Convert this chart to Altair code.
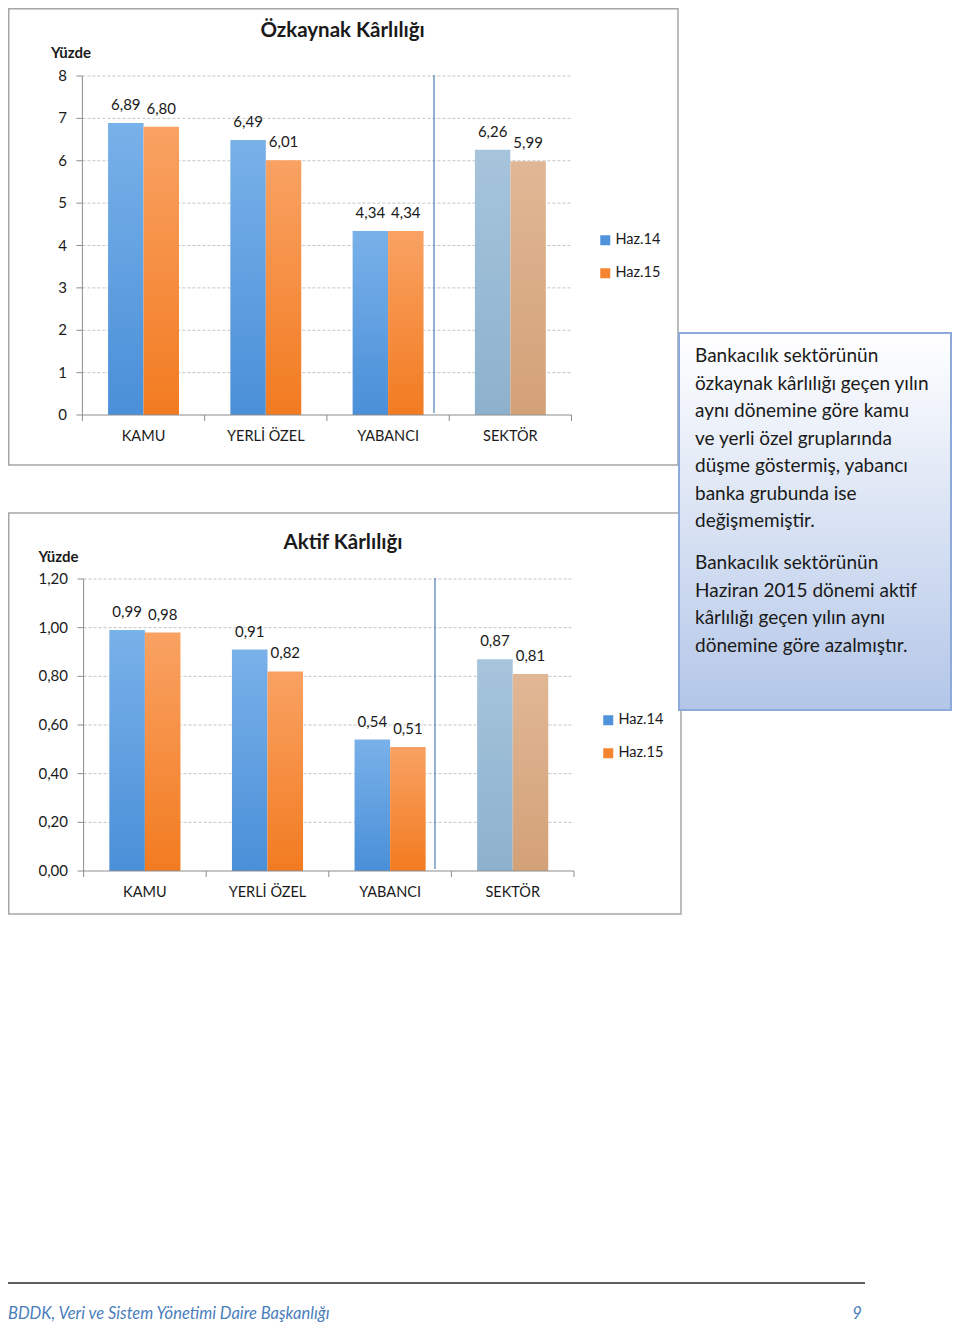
import altair as alt
import pandas as pd

# ---------------- data ----------------
groups = ["KAMU", "YERLİ ÖZEL", "YABANCI", "SEKTÖR"]
series = ["Haz.14", "Haz.15"]

oz_haz14 = [6.89, 6.49, 4.34, 6.26]
oz_haz15 = [6.80, 6.01, 4.34, 5.99]
ak_haz14 = [0.99, 0.91, 0.54, 0.87]
ak_haz15 = [0.98, 0.82, 0.51, 0.81]

oz_ticks = [0, 1, 2, 3, 4, 5, 6, 7, 8]
oz_tick_labels = ["0", "1", "2", "3", "4", "5", "6", "7", "8"]
ak_ticks = [0.0, 0.2, 0.4, 0.6, 0.8, 1.0, 1.2]
ak_tick_labels = ["0,00", "0,20", "0,40", "0,60", "0,80", "1,00", "1,20"]

titles = ["Özkaynak Kârlılığı", "Aktif Kârlılığı"]
unit_label = "Yüzde"

para1 = ["Bankacılık sektörünün", "özkaynak kârlılığı geçen yılın",
         "aynı dönemine göre kamu", "ve yerli özel gruplarında",
         "düşme göstermiş, yabancı", "banka grubunda ise", "değişmemiştir."]
para2 = ["Bankacılık sektörünün", "Haziran 2015 dönemi aktif",
         "kârlılığı geçen yılın aynı", "dönemine göre azalmıştır."]

footer_text = "BDDK, Veri ve Sistem Yönetimi Daire Başkanlığı"
page_number = "9"

# ---------------- styles ----------------
FONT = "Lato"
TXT = "#1a1a1a"
AXIS = "#8c8c8c"
GRID = "#c4c4c4"
FRAME = "#a6a6a6"
SEP = "#4f7fb8"
LEG_COLORS = ["#4f93dc", "#f5842f"]
BAR_GRAD = {
    ("Haz.14", "grup"): ("#79b1e9", "#4a8fd8"),
    ("Haz.15", "grup"): ("#f9a263", "#f27b20"),
    ("Haz.14", "sektor"): ("#a6c4dc", "#8db1cd"),
    ("Haz.15", "sektor"): ("#e0b795", "#d3a178"),
}

one = pd.DataFrame({"k": [0]})


def vgrad(top, bottom):
    return alt.Gradient(
        gradient="linear",
        stops=[alt.GradientStop(color=top, offset=0), alt.GradientStop(color=bottom, offset=1)],
        x1=0, x2=0, y1=0, y2=1,
    )


def hrule(x, x2, y, color, w=1.0, dash=None):
    kw = dict(color=color, strokeWidth=w)
    if dash:
        kw["strokeDash"] = dash
    return alt.Chart(one).mark_rule(**kw).encode(x=alt.value(x), x2=alt.value(x2), y=alt.value(y))


def vrule(x, y, y2, color, w=1.0):
    return alt.Chart(one).mark_rule(color=color, strokeWidth=w).encode(
        x=alt.value(x), y=alt.value(y), y2=alt.value(y2))


def label_text(t, x, y, size, weight="normal", align="center", baseline="middle", color=TXT, style="normal"):
    return alt.Chart(pd.DataFrame({"t": [t]})).mark_text(
        fontSize=size, fontWeight=weight, align=align, baseline=baseline,
        color=color, fontStyle=style, font=FONT,
    ).encode(x=alt.value(x), y=alt.value(y), text="t:N")


def panel(v14, v15, ticks, tick_labels, title, g):
    rows = []
    for grp, a, b in zip(groups, v14, v15):
        kind = "sektor" if grp == "SEKTÖR" else "grup"
        rows.append({"group": grp, "series": series[0], "value": a, "kind": kind})
        rows.append({"group": grp, "series": series[1], "value": b, "kind": kind})
    df = pd.DataFrame(rows)
    df["label"] = df["value"].map(lambda v: f"{v:.2f}".replace(".", ","))
    tdf = pd.DataFrame({"value": ticks, "label": tick_labels})

    xs = alt.Scale(domain=groups, range=[g["x0"], g["x1"]], paddingInner=0.42, paddingOuter=0.21)
    ys = alt.Scale(domain=[0, g["ymax"]], range=[g["yb"], g["yt"]], nice=False)
    X = alt.X("group:N", scale=xs, axis=None)
    XO = alt.XOffset("series:N", scale=alt.Scale(domain=series))
    Y = alt.Y("value:Q", scale=ys, axis=None)

    layers = []
    # grid lines
    layers.append(
        alt.Chart(tdf).transform_filter("datum.value > 0").mark_rule(
            color=GRID, strokeWidth=1, strokeDash=[3, 2]
        ).encode(y=Y, x=alt.value(g["x0"]), x2=alt.value(g["x1"]))
    )
    # bars
    for (s, k), (top, bot) in BAR_GRAD.items():
        layers.append(
            alt.Chart(df).transform_filter(f"datum.series == '{s}' && datum.kind == '{k}'")
            .mark_bar(fill=vgrad(top, bot))
            .encode(x=X, xOffset=XO, y=Y)
        )
    # value labels
    layers.append(
        alt.Chart(df).mark_text(dy=-18, fontSize=15, color=TXT, font=FONT, baseline="middle")
        .encode(x=X, xOffset=XO, y=Y, text="label:N")
    )
    # y tick labels and tick marks
    layers.append(
        alt.Chart(tdf).mark_text(align="right", baseline="middle", fontSize=15, color=TXT, font=FONT)
        .encode(y=Y, x=alt.value(g["lx"]), text="label:N")
    )
    layers.append(
        alt.Chart(tdf).mark_rule(color=AXIS, strokeWidth=1)
        .encode(y=Y, x=alt.value(g["x0"] - 6), x2=alt.value(g["x0"]))
    )
    # x category labels
    layers.append(
        alt.Chart(pd.DataFrame({"group": groups})).mark_text(
            fontSize=14.5, color=TXT, font=FONT, baseline="middle")
        .encode(x=X, y=alt.value(g["xly"]), text="group:N")
    )
    # legend (from colour scale)
    layers.append(
        alt.Chart(pd.DataFrame({"series": series})).mark_square(opacity=0, size=1)
        .encode(color=alt.Color(
            "series:N",
            scale=alt.Scale(domain=series, range=LEG_COLORS),
            legend=alt.Legend(
                orient="none", legendX=g["legx"], legendY=g["legy"], title=None,
                symbolType="square", symbolSize=100, symbolOpacity=1, symbolStrokeWidth=0,
                labelFontSize=14.5, labelColor=TXT, labelFont=FONT, rowPadding=18,
                labelOffset=3, padding=0,
            ),
        ))
    )
    # axes lines / ticks / separator (layout decorations)
    layers.append(vrule(g["x0"], g["yt"], g["yb"], AXIS))
    layers.append(hrule(g["x0"], g["x1"], g["yb"], AXIS))
    step = (g["x1"] - g["x0"]) / len(groups)
    for i in range(len(groups) + 1):
        layers.append(vrule(g["x0"] + i * step, g["yb"], g["yb"] + 6, AXIS))
    layers.append(vrule(g["sepx"], g["yt"] - 1, g["yb"] - 2, SEP, 1.2))
    # titles
    layers.append(label_text(title, g["tx"], g["ty"], 20.5, weight="bold"))
    layers.append(label_text(unit_label, g["ux"], g["uy"], 15, weight="bold"))
    return alt.layer(*layers)


g1 = dict(x0=74.4, x1=563.5, yb=407, yt=68, ymax=8, lx=59, xly=429,
          legx=590, legy=225, sepx=426, tx=334.6, ty=23, ux=63, uy=45)
g2 = dict(x0=75.6, x1=566, yb=863, yt=571, ymax=1.2, lx=60, xly=885,
          legx=593, legy=705, sepx=427, tx=335, ty=535, ux=50.5, uy=549)

frame1 = alt.Chart(one).mark_rect(fill="white", stroke=FRAME, strokeWidth=1.5).encode(
    x=alt.value(0.75), x2=alt.value(670), y=alt.value(0.75), y2=alt.value(457))
frame2 = alt.Chart(one).mark_rect(fill="white", stroke=FRAME, strokeWidth=1.5).encode(
    x=alt.value(0.75), x2=alt.value(673), y=alt.value(505), y2=alt.value(906))

p1 = panel(oz_haz14, oz_haz15, oz_ticks, oz_tick_labels, titles[0], g1)
p2 = panel(ak_haz14, ak_haz15, ak_ticks, ak_tick_labels, titles[1], g2)

textbox = alt.Chart(one).mark_rect(
    fill=vgrad("#ffffff", "#b3c6e8"), stroke="#8eaadb", strokeWidth=2
).encode(x=alt.value(671), x2=alt.value(943), y=alt.value(325), y2=alt.value(702))

para_df1 = pd.DataFrame({"t": ["\n".join(para1)]})
para_df2 = pd.DataFrame({"t": ["\n".join(para2)]})
ptext1 = alt.Chart(para_df1).mark_text(
    lineBreak="\n", lineHeight=27.5, align="left", baseline="top",
    fontSize=19, color=TXT, font=FONT
).encode(x=alt.value(687), y=alt.value(339), text="t:N")
ptext2 = alt.Chart(para_df2).mark_text(
    lineBreak="\n", lineHeight=27.5, align="left", baseline="top",
    fontSize=19, color=TXT, font=FONT
).encode(x=alt.value(687), y=alt.value(546), text="t:N")

footer_line = hrule(0, 857, 1275, "#2b2b2b", 1.6)
footer1 = label_text(footer_text, 0, 1311, 16.5, align="left", baseline="alphabetic",
                     color="#4a7ebb", style="italic")
footer2 = label_text(page_number, 849, 1311, 16.5, align="center", baseline="alphabetic",
                     color="#4a7ebb", style="italic")

chart = alt.layer(
    frame1, frame2, p1, p2, textbox, ptext1, ptext2, footer_line, footer1, footer2
).resolve_scale(
    x="independent", y="independent", xOffset="independent", color="independent"
).properties(
    width=944, height=1315, autosize=alt.AutoSizeParams(type="none"), padding=0
).configure(font=FONT).configure_view(strokeWidth=0)

chart.save("out.html", embed_options={"renderer": "svg", "actions": False})
